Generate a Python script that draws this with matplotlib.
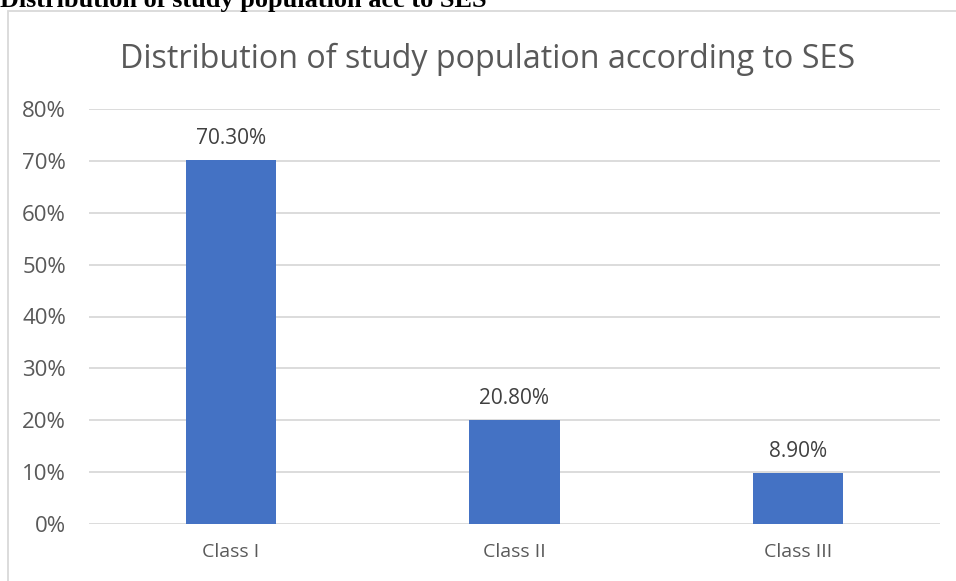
import matplotlib.pyplot as plt
from matplotlib.patches import Rectangle
from matplotlib import rcParams

rcParams.update({'font.family': ['Open Sans', 'DejaVu Sans']})

# data
categories = ['Class I', 'Class II', 'Class III']
bar_heights = [70.2, 20.0, 9.9]       # bar tops as drawn
value_labels = ['70.30%', '20.80%', '8.90%']
yticks = [0, 10, 20, 30, 40, 50, 60, 70, 80]

W, H = 956, 581
fig = plt.figure(figsize=(W / 100, H / 100), dpi=100)

# chart-area border (cut off at right and bottom)
fig.patches.append(Rectangle((8 / W, -0.1), 1.2, 1 - 10.5 / H + 0.1,
                             transform=fig.transFigure, fill=False,
                             edgecolor='#d9d9d9', linewidth=1.3))

# clipped caption of the document above the chart
fig.text(0, 1 - 7 / H, 'Distribution of study population acc to SES',
         family='Liberation Serif', weight='bold', fontsize=18.9,
         ha='left', va='baseline', color='black')

ax = fig.add_axes([89 / W, (H - 524) / H, (940 - 89) / W, (524 - 109) / H])
x = range(len(categories))
ax.bar(x, bar_heights, width=0.318, color='#4472c4', zorder=3)

for i, (h, lab) in enumerate(zip(bar_heights, value_labels)):
    ax.annotate(lab, (i, h), xytext=(0, 11.5), textcoords='offset points',
                ha='center', va='baseline', fontsize=15, color='#404040')

ax.set_xlim(-0.5, 2.5)
ax.set_ylim(0, 80)
ax.set_yticks(yticks)
ax.set_yticklabels([f'{t}%' for t in yticks], fontsize=16)
ax.set_xticks(list(x))
ax.set_xticklabels(categories, fontsize=14)
ax.tick_params(length=0, labelcolor='#595959')
ax.tick_params(axis='y', pad=16.5)
ax.tick_params(axis='x', pad=14)
ax.grid(axis='y', color='#d9d9d9', linewidth=1.3, zorder=0)
for s in ax.spines.values():
    s.set_visible(False)

fig.text(488 / W, 1 - 68 / H, 'Distribution of study population according to SES',
         ha='center', va='baseline', fontsize=23.2, color='#595959')

fig.savefig('out.png', dpi=100)
